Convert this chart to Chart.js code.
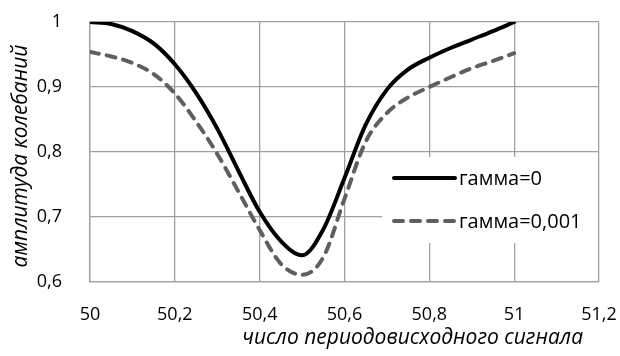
<!DOCTYPE html>
<html>
<head>
<meta charset="utf-8">
<script src="https://cdn.jsdelivr.net/npm/chart.js@4"></script>
<style>
  body { margin: 0; background: #fff; }
  #wrap { width: 620px; height: 356px; }
</style>
</head>
<body>
<div id="wrap"><canvas id="ampChart" width="620" height="356"></canvas></div>
<script>
// Число периодов исходного сигнала
var periods = [50.00, 50.05, 50.10, 50.15, 50.20, 50.25, 50.30, 50.35, 50.40, 50.45, 50.50,
               50.55, 50.60, 50.65, 50.70, 50.75, 50.80, 50.85, 50.90, 50.95, 51.00];
// Амплитуда колебаний, гамма = 0
var ampGamma0 = [1.000, 0.997, 0.986, 0.967, 0.935, 0.891, 0.836, 0.771, 0.708, 0.663, 0.641,
                 0.681, 0.760, 0.842, 0.896, 0.927, 0.945, 0.960, 0.973, 0.986, 1.000];
// Амплитуда колебаний, гамма = 0,001
var ampGamma001 = [0.954, 0.947, 0.937, 0.920, 0.890, 0.847, 0.797, 0.739, 0.680, 0.628, 0.611,
                   0.638, 0.728, 0.816, 0.860, 0.884, 0.900, 0.915, 0.929, 0.940, 0.952];

var seriesNames = ['гамма=0', 'гамма=0,001'];
var xTickLabels = ['50', '50,2', '50,4', '50,6', '50,8', '51', '51,2'];
var yTickLabels = ['0,6', '0,7', '0,8', '0,9', '1'];
var xTitle = 'число периодовисходного сигнала';
var yTitle = 'амплитуда колебаний';

var FONT = '"Open Sans", sans-serif';

function toPoints(xs, ys) {
    return xs.map(function (x, i) { return { x: x, y: ys[i] }; });
}

// axis titles and the legend box inside the plot
var decorPlugin = {
    id: 'decor',
    afterDatasetsDraw: function (chart) {
        var ctx = chart.ctx;
        var ds = chart.data.datasets;
        ctx.save();

        // legend
        ctx.fillStyle = '#fff';
        ctx.fillRect(382, 157, 216, 86);
        ctx.font = '20px ' + FONT;
        ctx.textBaseline = 'middle';
        ctx.textAlign = 'left';
        var rows = [178, 221];
        ds.forEach(function (d, i) {
            ctx.beginPath();
            ctx.strokeStyle = d.borderColor;
            ctx.lineWidth = d.borderWidth;
            ctx.lineCap = 'round';
            ctx.setLineDash(d.borderDash || []);
            ctx.moveTo(394, rows[i]);
            ctx.lineTo(455, rows[i]);
            ctx.stroke();
            ctx.setLineDash([]);
            ctx.fillStyle = '#000';
            ctx.fillText(d.label, 459, rows[i] + 1);
        });

        // axis titles
        ctx.fillStyle = '#000';
        ctx.font = 'italic 21px ' + FONT;
        ctx.textBaseline = 'alphabetic';
        ctx.textAlign = 'right';
        ctx.fillText(xTitle, 583, 344);

        ctx.translate(27, 156);
        ctx.rotate(-Math.PI / 2);
        ctx.textAlign = 'center';
        ctx.fillText(yTitle, 0, 0);
        ctx.restore();
    }
};

var ctx = document.getElementById('ampChart').getContext('2d');
var ampChart = new Chart(ctx, {
    type: 'scatter',
    data: {
        datasets: [{
            label: seriesNames[0],
            data: toPoints(periods, ampGamma0),
            showLine: true,
            borderColor: '#000000',
            borderWidth: 4,
            pointRadius: 0,
            cubicInterpolationMode: 'monotone',
            borderCapStyle: 'round'
        }, {
            label: seriesNames[1],
            data: toPoints(periods, ampGamma001),
            showLine: true,
            borderColor: '#5f5f5f',
            borderWidth: 4,
            borderDash: [9, 8],
            pointRadius: 0,
            cubicInterpolationMode: 'monotone',
            borderCapStyle: 'round'
        }]
    },
    options: {
        responsive: false,
        animation: false,
        layout: { padding: { top: 22, right: 21, left: 0, bottom: 0 } },
        plugins: {
            legend: { display: false },
            tooltip: { enabled: false }
        },
        scales: {
            x: {
                type: 'linear',
                min: 50,
                max: 51.2,
                afterFit: function (scale) {
                    scale.height = 74;
                    scale.paddingLeft = 0;
                    scale.paddingRight = 0;
                },
                afterBuildTicks: function (scale) {
                    scale.ticks = xTickLabels.map(function (t, i) { return { value: 50 + i * 0.2 }; });
                },
                ticks: {
                    padding: 22,
                    color: '#000',
                    font: { family: FONT, size: 18 },
                    callback: function (v, i) { return xTickLabels[i]; }
                },
                grid: { color: '#a0a0a0', lineWidth: 1.3, drawTicks: false },
                border: { color: '#a0a0a0', width: 1.3 }
            },
            y: {
                min: 0.6,
                max: 1,
                afterFit: function (scale) {
                    scale.width = 90;
                    scale.paddingTop = 0;
                    scale.paddingBottom = 0;
                },
                afterBuildTicks: function (scale) {
                    scale.ticks = yTickLabels.map(function (t, i) { return { value: 0.6 + i * 0.1 }; });
                },
                ticks: {
                    padding: 28,
                    color: '#000',
                    font: { family: FONT, size: 18 },
                    callback: function (v, i) { return yTickLabels[i]; }
                },
                grid: { color: '#a0a0a0', lineWidth: 1.3, drawTicks: false },
                border: { color: '#a0a0a0', width: 1.3 }
            }
        }
    },
    plugins: [decorPlugin]
});
</script>
</body>
</html>
